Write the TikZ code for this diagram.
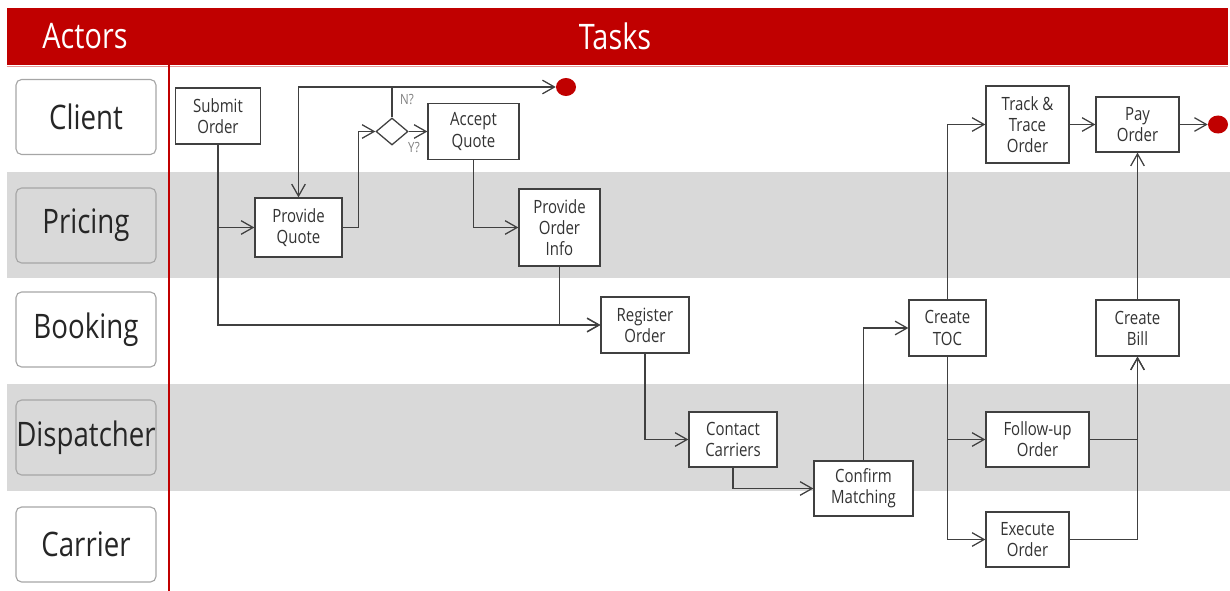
\documentclass[tikz,border=0pt]{standalone}
\usepackage{fontspec}
\newfontfamily\diagfont[FakeStretch=0.82]{Open Sans}
\usetikzlibrary{shapes.geometric,arrows.meta}

\definecolor{hdrred}{HTML}{C00000}
\definecolor{laneGray}{HTML}{D9D9D9}
\definecolor{lineGray}{HTML}{404040}
\definecolor{edgeGray}{HTML}{A6A6A6}

\tikzset{
  task/.style={draw=lineGray, line width=0.9pt, fill=white, text=black!80, align=center,
    inner sep=0pt, minimum height=1.4cm, font=\diagfont\fontsize{13}{15}\selectfont},
  actor/.style={draw=edgeGray, line width=0.8pt, rounded corners=4pt, inner xsep=0pt,
    minimum width=3.5cm, minimum height=1.875cm, text=black!85,
    font=\diagfont\fontsize{24}{28}\selectfont},
  heading/.style={text=white, font=\diagfont\fontsize{25}{30}\selectfont},
  flow/.style={draw=lineGray, line width=0.9pt, -{Straight Barb[length=3mm,width=3.4mm]}},
  enddot/.style={ellipse, fill=hdrred, minimum width=0.5cm, minimum height=0.45cm, inner sep=0pt},
  gate/.style={diamond, draw=lineGray, line width=0.9pt, fill=white, minimum width=0.8cm,
    minimum height=0.675cm, inner sep=0pt},
  hint/.style={text=gray, font=\diagfont\fontsize{10}{12}\selectfont}
}

\begin{document}
\begin{tikzpicture}[x=0.025cm, y=-0.025cm]
\useasboundingbox (0,0) rectangle (1230,591);

% Swim lane bands
\fill[laneGray] (7,172) rectangle (1230,278);
\fill[laneGray] (7,384) rectangle (1230,491);

% Header bar and divider
\fill[hdrred] (7,8) rectangle (1228,65);
\draw[hdrred!40, line width=0.6pt] (7,66) -- (1228,66);
\draw[hdrred, line width=1.4pt] (169,65) -- (169,591);
\node[heading] (actorsHead) at (85,36) {Actors};
\node[heading] (tasksHead) at (615,36) {Tasks};

% Actors
\node[actor, fill=white] (client) at (86,117) {Client};
\node[actor, fill=laneGray] (pricing) at (86,225.5) {Pricing};
\node[actor, fill=white] (booking) at (86,329.5) {Booking};
\node[actor, fill=laneGray] (dispatcher) at (86,437.5) {Dispatcher};
\node[actor, fill=white] (carrier) at (86,544.5) {Carrier};

% Tasks
\node[task, minimum width=2.125cm] (submit) at (218,116) {Submit\\Order};
\node[task, minimum width=2.175cm, minimum height=1.475cm] (quote) at (298.5,227.5) {Provide\\Quote};
\node[gate] (decide) at (392,131.5) {};
\node[task, minimum width=2.275cm] (accept) at (473.5,131.5) {Accept\\Quote};
\node[task, minimum width=2.025cm, minimum height=1.925cm] (info) at (559.5,227.5) {Provide\\Order\\Info};
\node[task, minimum width=2.2cm] (register) at (645,325) {Register\\Order};
\node[task, minimum width=2.2cm, minimum height=1.375cm] (contact) at (733,439.5) {Contact\\Carriers};
\node[task, minimum width=2.475cm, minimum height=1.375cm] (confirm) at (863.5,488.5) {Confirm\\Matching};
\node[task, minimum width=1.925cm] (toc) at (947.5,328) {Create\\TOC};
\node[task, minimum width=2.075cm, minimum height=1.925cm] (track) at (1027.5,124.5) {Track \&\\Trace\\Order};
\node[task, minimum width=2.075cm, minimum height=1.375cm] (pay) at (1137.5,124.5) {Pay\\Order};
\node[task, minimum width=2.075cm] (bill) at (1137.5,328) {Create\\Bill};
\node[task, minimum width=2.575cm, minimum height=1.375cm] (followup) at (1037.5,439.5) {Follow-up\\Order};
\node[task, minimum width=2.075cm, minimum height=1.375cm] (execute) at (1027.5,539.5) {Execute\\Order};

% End points
\node[enddot] (endA) at (566,87) {};
\node[enddot] (endB) at (1218,124.5) {};

% Decision labels
\node[hint] (noLabel) at (407,100) {N?};
\node[hint] (yesLabel) at (414,148) {Y?};

% Flows
\draw[flow] (submit.south) |- (quote.west);
\draw[flow] (submit.south) |- (register.west);
\draw[flow] (quote.east) -- ++(16,0) |- (decide.west);
\coordinate (nTop) at (decide.north |- endA.west);
\draw[flow] (decide.north) -- (nTop) -| (quote.north);
\draw[flow] (nTop) -- (endA.west);
\draw[flow] (decide.east) -- (accept.west);
\draw[flow] (accept.south) |- (info.west);
\draw[flow] (info.south) |- (register.west);
\draw[flow] (register.south) |- (contact.west);
\draw[flow] (contact.south) |- (confirm.west);
\draw[flow] (confirm.north) |- (toc.west);
\draw[flow] (toc.north) |- (track.west);
\draw[flow] (toc.south) |- (followup.west);
\draw[flow] (toc.south) |- (execute.west);
\draw[flow] (track.east) -- (pay.west);
\draw[flow] (pay.east) -- (endB.west);
\draw[flow] (followup.east) -| (bill.south);
\draw[flow] (execute.east) -| (bill.south);
\draw[flow] (bill.north) -- (pay.south);

\end{tikzpicture}
\end{document}
